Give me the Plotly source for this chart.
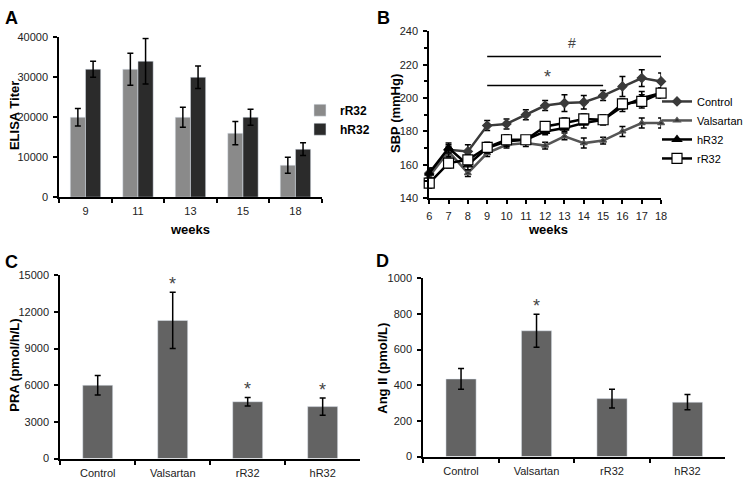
import plotly.graph_objects as go

# ---- data ----
# A: ELISA titer
weeks_a = ["9", "11", "13", "15", "18"]
rr32_titer = [20000, 32000, 20000, 16000, 8000]
rr32_titer_err = [2200, 4000, 2500, 2900, 2000]
hr32_titer = [32000, 34000, 30000, 20000, 12000]
hr32_titer_err = [2000, 5700, 2800, 2000, 1600]

# B: SBP over weeks
weeks_b = [6, 7, 8, 9, 10, 11, 12, 13, 14, 15, 16, 17, 18]
sbp_control = [155, 169, 168, 183.5, 184.5, 190, 195.5, 197, 197.5, 201.5, 207, 212, 210]
sbp_control_err = [3, 3, 4, 3, 3, 3, 3, 5, 4, 3, 6, 5, 5]
sbp_valsartan = [153, 168, 155, 167, 172, 173, 171.5, 177, 173, 174.5, 180, 185, 185]
sbp_valsartan_err = [3, 3, 2, 2, 2, 2, 2, 2, 3, 2, 3, 3, 3]
sbp_hr32 = [155, 170, 160, 170, 174, 175, 180, 182, 185, 187, 195, 200, 203]
sbp_hr32_err = [3, 3, 3, 3, 3, 2, 2, 2, 3, 3, 3, 4, 3]
sbp_rr32 = [149, 161, 163, 170.5, 175, 175, 183, 185, 187.5, 187, 196.5, 198, 203]
sbp_rr32_err = [3, 3, 3, 3, 3, 2, 2, 3, 3, 3, 3, 4, 3]

# C / D
groups = ["Control", "Valsartan", "rR32", "hR32"]
pra = [6000, 11300, 4650, 4250]
pra_err = [800, 2300, 350, 700]
pra_star = ["", "*", "*", "*"]
ang2 = [435, 705, 325, 305]
ang2_err = [58, 92, 52, 43]
ang2_star = ["", "*", "", ""]

W, H = 748, 487
FONT = "Liberation Sans, Arial, sans-serif"


# helpers to place things in pixel terms
def px(x):
    return x / W


def py(y):
    return 1 - y / H


def dx(a, b):
    return [px(a), px(b)]


def dy(top, bottom):
    return [py(bottom), py(top)]


def err(arr):
    return dict(type="data", array=arr, color="black", thickness=1.5, width=3)


fig = go.Figure()

# panel A
fig.add_trace(go.Bar(x=weeks_a, y=rr32_titer, name="rR32", marker_color="#8a8a8a",
                     error_y=err(rr32_titer_err), xaxis="x", yaxis="y", legend="legend"))
fig.add_trace(go.Bar(x=weeks_a, y=hr32_titer, name="hR32", marker_color="#2b2b2b",
                     error_y=err(hr32_titer_err), xaxis="x", yaxis="y", legend="legend"))

# panel B
line_specs = [
    ("Control", sbp_control, sbp_control_err, "#3a3a3a", "diamond", 7, "#3a3a3a"),
    ("Valsartan", sbp_valsartan, sbp_valsartan_err, "#555555", "triangle-up", 6, "#333333"),
    ("hR32", sbp_hr32, sbp_hr32_err, "black", "triangle-up", 8, "black"),
    ("rR32", sbp_rr32, sbp_rr32_err, "black", "square", 10, "white"),
]
for name, ys, es, col, sym, sz, fill in line_specs:
    fig.add_trace(go.Scatter(
        x=weeks_b, y=ys, name=name, mode="lines+markers",
        line=dict(color=col, width=2.5),
        marker=dict(symbol=sym, size=sz, color=fill, line=dict(color=col, width=1.2)),
        error_y=err(es), cliponaxis=False, xaxis="x2", yaxis="y2", legend="legend2"))

# panel C / D
fig.add_trace(go.Bar(x=groups, y=pra, width=0.4, marker_color="#636363",
                     error_y=err(pra_err), showlegend=False, xaxis="x3", yaxis="y3"))
fig.add_trace(go.Bar(x=groups, y=ang2, width=0.4, marker_color="#636363",
                     error_y=err(ang2_err), showlegend=False, xaxis="x4", yaxis="y4"))

axis_common = dict(showline=True, linewidth=2, linecolor="black", showgrid=False,
                   zeroline=False, ticks="outside", ticklen=4, tickwidth=1.5,
                   tickcolor="black", tickformat="d", tickfont=dict(size=11, color="#222"),
                   ticklabelstandoff=3)

fig.update_layout(
    width=W, height=H, margin=dict(l=0, r=0, t=0, b=0),
    paper_bgcolor="white", plot_bgcolor="white",
    font=dict(family=FONT, color="black"),
    barmode="group", bargap=0.42, bargroupgap=0,
    xaxis=dict(domain=dx(57, 323), tickson="boundaries", anchor="y", **axis_common),
    yaxis=dict(domain=dy(32, 196), range=[0, 40000], dtick=10000, anchor="x", **axis_common),
    xaxis2=dict(domain=dx(432, 667), range=[6, 18], dtick=1, anchor="y2", **axis_common),
    yaxis2=dict(domain=dy(26, 197), range=[140, 240], dtick=20, anchor="x2",
                minor=dict(ticks="outside", dtick=10, ticklen=3, tickcolor="black"),
                **axis_common),
    xaxis3=dict(domain=dx(58, 362), tickson="boundaries", anchor="y3", **axis_common),
    yaxis3=dict(domain=dy(276, 464), range=[0, 15000], dtick=3000, anchor="x3", **axis_common),
    xaxis4=dict(domain=dx(426, 732), tickson="boundaries", anchor="y4", **axis_common),
    yaxis4=dict(domain=dy(279, 462), range=[0, 1000], dtick=200, anchor="x4", **axis_common),
    legend=dict(x=px(301), y=py(92), xanchor="left", yanchor="top",
                font=dict(size=12, weight="bold"), bgcolor="rgba(0,0,0,0)",
                itemwidth=30, tracegroupgap=0),
    legend2=dict(x=px(663), y=py(83), xanchor="left", yanchor="top",
                 font=dict(size=11), bgcolor="rgba(0,0,0,0)", itemwidth=30),
)


def note(text, x, y, size, angle=0):
    fig.add_annotation(text=text, x=px(x), y=py(y), xref="paper", yref="paper",
                       xanchor="center", yanchor="middle", textangle=angle,
                       showarrow=False,
                       font=dict(size=size, weight="bold", color="black"))


# axis titles
note("ELISA Titer", 11, 112, 13, angle=-90)
note("SBP (mmHg)", 398, 110, 13, angle=-90)
note("PRA (pmol/h/L)", 12, 368, 13, angle=-90)
note("Ang II (pmol/L)", 385, 371, 13, angle=-90)
note("weeks", 190, 229, 13)
note("weeks", 552, 229, 13)

# panel letters
note("A", 9, 12, 18)
note("B", 386, 12, 18)
note("C", 9, 262, 18)
note("D", 385, 261, 18)

# significance marks in B
fig.add_shape(type="line", x0=9, x1=18, y0=225, y1=225, xref="x2", yref="y2",
              line=dict(color="black", width=1.5))
fig.add_shape(type="line", x0=9, x1=15, y0=207.5, y1=207.5, xref="x2", yref="y2",
              line=dict(color="black", width=1.5))
fig.add_annotation(text="#", x=13.4, y=225, xref="x2", yref="y2", yshift=13,
                   showarrow=False, font=dict(size=14, color="#444"))
fig.add_annotation(text="*", x=12.1, y=207.5, xref="x2", yref="y2", yshift=9,
                   showarrow=False, font=dict(size=18, color="#444"))

# asterisks above bars in C and D
for g, v, e, s in zip(groups, pra, pra_err, pra_star):
    if s:
        fig.add_annotation(text=s, x=g, y=v + e, xref="x3", yref="y3", yshift=8,
                           showarrow=False, font=dict(size=18, color="#444"))
for g, v, e, s in zip(groups, ang2, ang2_err, ang2_star):
    if s:
        fig.add_annotation(text=s, x=g, y=v + e, xref="x4", yref="y4", yshift=8,
                           showarrow=False, font=dict(size=18, color="#444"))

# drop the default 8px body margin so the figure fills the window
fig.write_html("out.html", config={"displayModeBar": False},
               post_script="document.body.style.margin='0';")
